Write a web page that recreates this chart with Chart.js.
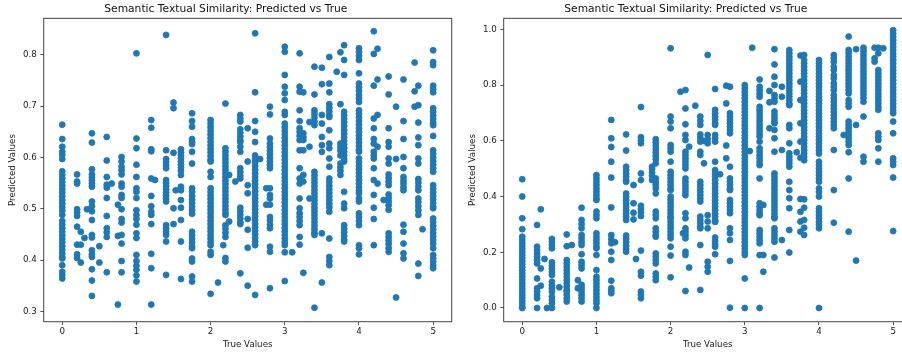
<!DOCTYPE html>
<html>
<head>
<meta charset="utf-8">
<script src="https://cdn.jsdelivr.net/npm/chart.js@4.4.1/dist/chart.umd.min.js"></script>
<style>
  html, body { margin: 0; padding: 0; background: #fff; width: 902px; height: 353px; overflow: hidden; }
  .panel { position: absolute; top: 0; width: 460px; height: 353px; }
</style>
</head>
<body>
<div class="panel" style="left:0"><canvas id="leftChart"></canvas></div>
<div class="panel" style="left:460px"><canvas id="rightChart"></canvas></div>
<script>
// tick labels
const xTicks = [0, 1, 2, 3, 4, 5];
const leftYTicks = [0.3, 0.4, 0.5, 0.6, 0.7, 0.8];
const rightYTicks = [0.0, 0.2, 0.4, 0.6, 0.8, 1.0];

// LEFT PANEL: true score columns and the predictions read at each one
const leftTrue = [0, 0.2, 0.25, 0.3, 0.333, 0.4, 0.5, 0.6, 0.667, 0.75, 0.8, 1.0, 1.2, 1.25, 1.4, 1.5, 1.53, 1.6, 1.75,
  2.0, 2.1, 2.17, 2.2, 2.25, 2.333, 2.4, 2.5, 2.6, 2.667, 2.75, 2.8, 3.0, 3.1, 3.2, 3.25, 3.333, 3.4, 3.5, 3.6, 3.7,
  3.75, 3.8, 4.0, 4.2, 4.25, 4.333, 4.4, 4.5, 4.6, 4.75, 4.8, 4.857, 5.0];
const leftPred = [
  [0.664, 0.636, 0.621, 0.611, 0.605, 0.597, 0.573, 0.566, 0.559, 0.552, 0.545, 0.538, 0.531, 0.524, 0.517, 0.510, 0.503, 0.496, 0.488, 0.476, 0.469, 0.462, 0.455, 0.448, 0.441, 0.434, 0.427, 0.420, 0.413, 0.406, 0.403, 0.390, 0.377, 0.371, 0.364],
  [0.567, 0.553, 0.549, 0.499, 0.493, 0.486, 0.465, 0.430, 0.411, 0.404],
  [0.455, 0.430, 0.395],
  [0.443],
  [0.499],
  [0.647, 0.629, 0.577, 0.567, 0.561, 0.555, 0.549, 0.543, 0.514, 0.505, 0.495, 0.478, 0.449, 0.444, 0.419, 0.411, 0.406, 0.382, 0.360, 0.330],
  [0.427, 0.395],
  [0.640, 0.594, 0.562, 0.547, 0.541, 0.521, 0.486, 0.462, 0.454, 0.445, 0.376],
  [0.549],
  [0.508, 0.447, 0.313],
  [0.601, 0.592, 0.582, 0.575, 0.567, 0.549, 0.543, 0.527, 0.521, 0.499, 0.480, 0.473, 0.449, 0.432, 0.398, 0.376],
  [0.803, 0.637, 0.618, 0.586, 0.562, 0.540, 0.533, 0.521, 0.497, 0.488, 0.480, 0.469, 0.452, 0.443, 0.410, 0.398, 0.389, 0.381, 0.370, 0.358],
  [0.673, 0.658, 0.616, 0.612, 0.559, 0.525, 0.505, 0.494, 0.488, 0.470, 0.412, 0.384, 0.313],
  [0.556],
  [0.839, 0.614, 0.597, 0.591, 0.585, 0.579, 0.556, 0.550, 0.544, 0.538, 0.532, 0.526, 0.520, 0.514, 0.468, 0.462, 0.455, 0.449, 0.436, 0.371],
  [0.707, 0.696, 0.609, 0.501, 0.470],
  [0.536],
  [0.616, 0.610, 0.604, 0.598, 0.592, 0.586, 0.580, 0.574, 0.566, 0.543, 0.536, 0.517, 0.502, 0.478, 0.436, 0.363],
  [0.686, 0.671, 0.660, 0.636, 0.630, 0.626, 0.611, 0.588, 0.540, 0.533, 0.525, 0.518, 0.511, 0.504, 0.497, 0.490, 0.455, 0.448, 0.441, 0.434, 0.427, 0.423, 0.403, 0.397, 0.368, 0.358],
  [0.673, 0.666, 0.659, 0.652, 0.645, 0.638, 0.631, 0.624, 0.617, 0.610, 0.603, 0.596, 0.592, 0.572, 0.562, 0.540, 0.533, 0.526, 0.519, 0.512, 0.505, 0.498, 0.491, 0.484, 0.477, 0.470, 0.463, 0.456, 0.449, 0.442, 0.435, 0.429, 0.416, 0.410, 0.334],
  [0.356],
  [0.429],
  [0.705, 0.618, 0.611, 0.604, 0.597, 0.590, 0.583, 0.576, 0.569, 0.562, 0.555, 0.548, 0.541, 0.534, 0.527, 0.520, 0.513, 0.506, 0.499, 0.492, 0.488, 0.468, 0.461, 0.453, 0.445, 0.404, 0.397],
  [0.566, 0.475],
  [0.553],
  [0.683, 0.676, 0.670, 0.655, 0.648, 0.641, 0.634, 0.630, 0.621, 0.611, 0.579, 0.572, 0.565, 0.559, 0.502, 0.495, 0.488, 0.481, 0.474, 0.470, 0.374],
  [0.657, 0.592, 0.546, 0.530, 0.480, 0.459, 0.424, 0.350],
  [0.842, 0.727, 0.671, 0.650, 0.630, 0.604, 0.597, 0.590, 0.583, 0.576, 0.569, 0.562, 0.555, 0.548, 0.541, 0.534, 0.527, 0.520, 0.513, 0.506, 0.499, 0.492, 0.485, 0.478, 0.471, 0.464, 0.457, 0.450, 0.443, 0.436, 0.429, 0.332],
  [0.597],
  [0.540, 0.508],
  [0.699, 0.684, 0.637, 0.627, 0.620, 0.613, 0.606, 0.599, 0.592, 0.585, 0.579, 0.540, 0.527, 0.520, 0.508, 0.484, 0.477, 0.469, 0.462, 0.426, 0.416, 0.345],
  [0.816, 0.806, 0.761, 0.738, 0.725, 0.712, 0.689, 0.683, 0.666, 0.659, 0.652, 0.645, 0.638, 0.631, 0.624, 0.617, 0.610, 0.603, 0.596, 0.589, 0.582, 0.575, 0.568, 0.561, 0.554, 0.547, 0.540, 0.533, 0.526, 0.519, 0.512, 0.505, 0.498, 0.491, 0.484, 0.477, 0.470, 0.463, 0.456, 0.449, 0.442, 0.435, 0.429, 0.415, 0.359],
  [0.415],
  [0.803, 0.738, 0.728, 0.692, 0.671, 0.657, 0.650, 0.642, 0.634, 0.614, 0.579, 0.559, 0.549, 0.520, 0.501, 0.491, 0.484, 0.476, 0.468, 0.445, 0.430],
  [0.727, 0.647, 0.640, 0.634, 0.614, 0.566, 0.553, 0.375],
  [0.669, 0.621, 0.520],
  [0.777, 0.723, 0.692, 0.685, 0.678, 0.670, 0.663, 0.572, 0.565, 0.558, 0.551, 0.544, 0.537, 0.530, 0.523, 0.516, 0.509, 0.502, 0.495, 0.488, 0.481, 0.474, 0.467, 0.460, 0.453, 0.449, 0.307],
  [0.775, 0.743, 0.683, 0.666, 0.640, 0.624, 0.611, 0.452, 0.356],
  [0.796, 0.744, 0.727, 0.704, 0.697, 0.690, 0.683, 0.679, 0.653, 0.627, 0.618, 0.598, 0.582, 0.559, 0.552, 0.545, 0.538, 0.531, 0.524, 0.517, 0.510, 0.503, 0.494, 0.442, 0.406, 0.398, 0.390],
  [0.767],
  [0.805, 0.704, 0.627, 0.620, 0.613, 0.604, 0.588, 0.581, 0.574, 0.566],
  [0.819, 0.790, 0.761, 0.689, 0.682, 0.675, 0.668, 0.661, 0.653, 0.646, 0.639, 0.632, 0.625, 0.618, 0.611, 0.604, 0.597, 0.592, 0.533, 0.510, 0.501, 0.468, 0.461, 0.454, 0.447, 0.440, 0.436],
  [0.813, 0.806, 0.798, 0.790, 0.764, 0.744, 0.737, 0.730, 0.722, 0.715, 0.708, 0.692, 0.685, 0.678, 0.671, 0.664, 0.657, 0.650, 0.643, 0.636, 0.629, 0.622, 0.615, 0.611, 0.598, 0.591, 0.584, 0.577, 0.570, 0.563, 0.556, 0.549, 0.542, 0.535, 0.530, 0.520, 0.514, 0.491, 0.484, 0.476, 0.468, 0.429, 0.423, 0.411],
  [0.846, 0.802, 0.740, 0.676, 0.657, 0.636, 0.627, 0.611, 0.604, 0.598, 0.579, 0.556, 0.527, 0.502, 0.480, 0.429],
  [0.812, 0.752, 0.683, 0.621, 0.549],
  [0.517],
  [0.758, 0.723, 0.657, 0.630, 0.621, 0.598, 0.588, 0.567, 0.560, 0.553, 0.546, 0.528, 0.521, 0.514, 0.507, 0.498, 0.452, 0.445, 0.438, 0.431, 0.423, 0.416],
  [0.699, 0.597, 0.327],
  [0.752, 0.671, 0.636, 0.601, 0.579, 0.562, 0.555, 0.549, 0.542, 0.536, 0.469, 0.455, 0.432, 0.413, 0.403],
  [0.785, 0.729, 0.699],
  [0.740, 0.702, 0.668, 0.639, 0.624, 0.598, 0.588, 0.558, 0.551, 0.543, 0.536, 0.520, 0.513, 0.505, 0.497, 0.488, 0.393, 0.369],
  [0.460],
  [0.809, 0.786, 0.780, 0.740, 0.733, 0.727, 0.696, 0.689, 0.682, 0.675, 0.668, 0.663, 0.642, 0.614, 0.607, 0.600, 0.593, 0.586, 0.579, 0.572, 0.546, 0.539, 0.532, 0.525, 0.518, 0.511, 0.504, 0.501, 0.481, 0.474, 0.467, 0.460, 0.453, 0.446, 0.439, 0.432, 0.423, 0.410, 0.403, 0.397, 0.390, 0.384]
];

// RIGHT PANEL
const rightTrue = [0, 0.2, 0.25, 0.3, 0.333, 0.4, 0.5, 0.6, 0.667, 0.75, 0.8, 1.0, 1.2, 1.25, 1.4, 1.5, 1.533, 1.6, 1.75, 1.8,
  2.0, 2.133, 2.167, 2.2, 2.25, 2.333, 2.4, 2.45, 2.5, 2.6, 2.667, 2.75, 2.8, 3.0, 3.067, 3.1, 3.2, 3.25, 3.333, 3.4,
  3.5, 3.6, 3.7, 3.75, 3.8, 4.0, 4.2, 4.333, 4.4, 4.5, 4.6, 4.75, 4.8, 4.867, 5.0];
const rightPred = [
  [0.462, 0.400, 0.322, 0.283, 0.256, 0.245, 0.234, 0.223, 0.212, 0.201, 0.190, 0.179, 0.168, 0.157, 0.146, 0.135, 0.124, 0.113, 0.102, 0.091, 0.080, 0.069, 0.058, 0.047, 0.036, 0.025, 0.014, 0.003, 0.0],
  [0.298, 0.220, 0.208, 0.196, 0.184, 0.172, 0.160, 0.106, 0.071, 0.059, 0.047, 0.035, 0.0],
  [0.354, 0.142, 0.080],
  [0.176],
  [0.0],
  [0.248, 0.237, 0.226, 0.214, 0.164, 0.152, 0.141, 0.130, 0.118, 0.094, 0.082, 0.071, 0.059, 0.041, 0.029, 0.017, 0.0],
  [0.074],
  [0.264, 0.222, 0.172, 0.160, 0.148, 0.136, 0.124, 0.112, 0.100, 0.088, 0.076, 0.064, 0.059, 0.047, 0.035, 0.023],
  [0.226],
  [0.100, 0.071],
  [0.360, 0.316, 0.301, 0.286, 0.262, 0.250, 0.238, 0.226, 0.193, 0.166, 0.154, 0.142, 0.083, 0.071, 0.059, 0.047, 0.035, 0.023],
  [0.477, 0.465, 0.453, 0.441, 0.429, 0.417, 0.405, 0.393, 0.388, 0.346, 0.334, 0.322, 0.268, 0.256, 0.244, 0.232, 0.220, 0.214, 0.190, 0.136, 0.112, 0.100, 0.088, 0.076, 0.064, 0.052, 0.040, 0.028, 0.017, 0.0],
  [0.675, 0.609, 0.578, 0.525, 0.468, 0.361, 0.262, 0.247, 0.232, 0.202, 0.172, 0.098, 0.071, 0.062, 0.053],
  [0.236],
  [0.623, 0.565, 0.507, 0.495, 0.483, 0.471, 0.459, 0.453, 0.411, 0.399, 0.387, 0.375, 0.363, 0.351, 0.339, 0.327, 0.316, 0.260, 0.248, 0.236, 0.224, 0.212, 0.202],
  [0.441, 0.376, 0.342, 0.318],
  [0.176],
  [0.721, 0.613, 0.602, 0.591, 0.483, 0.459, 0.367, 0.355, 0.343, 0.330, 0.206, 0.130, 0.116, 0.059, 0.047, 0.035],
  [0.507, 0.499, 0.487, 0.475, 0.459],
  [0.606, 0.594, 0.582, 0.570, 0.558, 0.546, 0.534, 0.519, 0.465, 0.453, 0.441, 0.429, 0.411, 0.346, 0.334, 0.322, 0.286, 0.274, 0.262, 0.256, 0.196, 0.184, 0.172, 0.160, 0.124, 0.112, 0.100],
  [0.932, 0.687, 0.669, 0.645, 0.585, 0.573, 0.561, 0.525, 0.489, 0.477, 0.465, 0.453, 0.441, 0.429, 0.423, 0.400, 0.388, 0.376, 0.364, 0.352, 0.340, 0.328, 0.322, 0.310, 0.298, 0.286, 0.274, 0.262, 0.250, 0.220, 0.188, 0.110],
  [0.776],
  [0.268],
  [0.782, 0.716, 0.659, 0.621, 0.603, 0.561, 0.549, 0.537, 0.525, 0.513, 0.501, 0.465, 0.453, 0.441, 0.429, 0.417, 0.405, 0.340, 0.322, 0.286, 0.274, 0.262, 0.250, 0.202, 0.190, 0.061],
  [0.579, 0.145],
  [0.726],
  [0.687, 0.672, 0.657, 0.623, 0.611, 0.597, 0.561, 0.549, 0.453, 0.441, 0.429, 0.417, 0.405, 0.393, 0.382, 0.328, 0.316, 0.304, 0.292, 0.286, 0.226, 0.065],
  [0.599, 0.519],
  [0.908, 0.621, 0.606, 0.591, 0.333, 0.310, 0.286, 0.166, 0.148, 0.130],
  [0.786, 0.711, 0.699, 0.687, 0.675, 0.663, 0.657, 0.621, 0.609, 0.597, 0.525, 0.495, 0.483, 0.471, 0.459, 0.447, 0.435, 0.423, 0.411, 0.399, 0.387, 0.375, 0.363, 0.351, 0.339, 0.327, 0.315, 0.309, 0.253, 0.241, 0.229, 0.220, 0.193],
  [0.480],
  [0.798, 0.734, 0.583, 0.537],
  [0.794, 0.699, 0.687, 0.675, 0.663, 0.651, 0.639, 0.627, 0.507, 0.465, 0.453, 0.441, 0.429, 0.423, 0.388, 0.376, 0.364, 0.352, 0.340, 0.286, 0.268, 0.244, 0.169, 0.001],
  [0.800, 0.788, 0.776, 0.764, 0.752, 0.740, 0.728, 0.716, 0.704, 0.692, 0.680, 0.668, 0.656, 0.644, 0.632, 0.620, 0.608, 0.596, 0.584, 0.572, 0.560, 0.548, 0.536, 0.524, 0.512, 0.500, 0.488, 0.476, 0.464, 0.452, 0.440, 0.428, 0.416, 0.404, 0.392, 0.380, 0.368, 0.356, 0.344, 0.332, 0.320, 0.308, 0.296, 0.284, 0.272, 0.260, 0.248, 0.236, 0.224, 0.212, 0.200, 0.190, 0.106, 0.0],
  [0.563],
  [0.934],
  [0.820, 0.794, 0.782, 0.770, 0.758, 0.722, 0.710, 0.698, 0.686, 0.674, 0.662, 0.650, 0.638, 0.626, 0.615, 0.597, 0.573, 0.561, 0.549, 0.537, 0.525, 0.513, 0.465, 0.376, 0.364, 0.352, 0.340, 0.333, 0.280, 0.268, 0.256, 0.244, 0.232, 0.190, 0.0],
  [0.370, 0.190, 0.130],
  [0.779, 0.738, 0.645],
  [0.929, 0.874, 0.830, 0.800, 0.764, 0.752, 0.740, 0.705, 0.693, 0.681, 0.669, 0.663, 0.639, 0.609, 0.561, 0.483, 0.471, 0.459, 0.447, 0.435, 0.423, 0.411, 0.399, 0.387, 0.375, 0.363, 0.351, 0.339, 0.327, 0.322, 0.286, 0.274, 0.262, 0.250, 0.238, 0.181],
  [0.794, 0.758, 0.567, 0.244],
  [0.926, 0.914, 0.902, 0.890, 0.878, 0.866, 0.854, 0.842, 0.830, 0.818, 0.806, 0.794, 0.782, 0.770, 0.758, 0.746, 0.734, 0.728, 0.657, 0.645, 0.591, 0.555, 0.543, 0.531, 0.519, 0.507, 0.453, 0.423, 0.394, 0.358, 0.280, 0.199],
  [0.559],
  [0.906, 0.812, 0.746, 0.663, 0.597, 0.539, 0.391, 0.345, 0.310, 0.274],
  [0.908, 0.890, 0.878, 0.866, 0.854, 0.842, 0.830, 0.818, 0.806, 0.794, 0.782, 0.770, 0.758, 0.746, 0.734, 0.722, 0.710, 0.698, 0.686, 0.674, 0.662, 0.650, 0.638, 0.626, 0.614, 0.602, 0.590, 0.578, 0.566, 0.554, 0.542, 0.530, 0.390, 0.360, 0.316, 0.288, 0.262],
  [0.890, 0.878, 0.866, 0.854, 0.842, 0.830, 0.818, 0.806, 0.794, 0.782, 0.770, 0.758, 0.746, 0.734, 0.722, 0.710, 0.698, 0.686, 0.674, 0.662, 0.650, 0.638, 0.626, 0.614, 0.602, 0.590, 0.578, 0.566, 0.554, 0.525, 0.513, 0.501, 0.489, 0.477, 0.465, 0.453, 0.429, 0.417, 0.400, 0.358, 0.346, 0.334, 0.322, 0.310, 0.298, 0.286, 0.0],
  [0.908, 0.896, 0.884, 0.866, 0.854, 0.836, 0.824, 0.806, 0.794, 0.782, 0.764, 0.752, 0.740, 0.728, 0.716, 0.704, 0.692, 0.680, 0.668, 0.656, 0.645, 0.567, 0.423, 0.306],
  [0.621],
  [0.974, 0.926, 0.914, 0.902, 0.890, 0.878, 0.866, 0.854, 0.842, 0.830, 0.818, 0.806, 0.794, 0.782, 0.770, 0.746, 0.734, 0.722, 0.669, 0.657, 0.645, 0.633, 0.621, 0.609, 0.597, 0.585, 0.559, 0.465, 0.274],
  [0.929, 0.657, 0.170],
  [0.934, 0.922, 0.910, 0.898, 0.886, 0.874, 0.862, 0.850, 0.838, 0.826, 0.814, 0.802, 0.790, 0.778, 0.766, 0.754, 0.740, 0.687, 0.543, 0.525],
  [0.934, 0.896, 0.884],
  [0.934, 0.914, 0.854, 0.842, 0.830, 0.818, 0.806, 0.794, 0.782, 0.770, 0.758, 0.746, 0.734, 0.722, 0.711, 0.627, 0.615, 0.603, 0.573, 0.525],
  [0.932],
  [0.997, 0.985, 0.973, 0.961, 0.949, 0.937, 0.925, 0.913, 0.901, 0.889, 0.877, 0.865, 0.853, 0.841, 0.829, 0.817, 0.805, 0.793, 0.781, 0.769, 0.757, 0.745, 0.733, 0.721, 0.709, 0.699, 0.669, 0.627, 0.537, 0.525, 0.513, 0.468, 0.276]
];

const TITLE = 'Semantic Textual Similarity: Predicted vs True';
const BLUE = '#1f77b4';
const FONT = "'DejaVu Sans', sans-serif";

// turn column lists into {x, y} points
function toPoints(trueVals, predCols) {
    const pts = [];
    trueVals.forEach((t, i) => predCols[i].forEach(p => pts.push({ x: t, y: p })));
    return pts;
}

// matplotlib-style box around the plot area
const frame = {
    id: 'frame',
    afterDraw(chart) {
        const { ctx, chartArea: a } = chart;
        ctx.save();
        ctx.strokeStyle = '#444';
        ctx.lineWidth = 1;
        ctx.strokeRect(a.left, a.top, a.right - a.left, a.bottom - a.top);
        ctx.restore();
    }
};

function makeChart(id, points, yMin, yMax, yTicks) {
    return new Chart(document.getElementById(id), {
        type: 'scatter',
        data: {
            datasets: [{
                data: points,
                backgroundColor: BLUE,
                borderColor: BLUE,
                borderWidth: 0.8,
                pointRadius: 3,
                pointHoverRadius: 3
            }]
        },
        options: {
            responsive: true,
            maintainAspectRatio: false,
            animation: false,
            devicePixelRatio: 1,
            layout: { padding: { left: 0, right: 8.3, top: 0, bottom: 0 } },
            plugins: {
                legend: { display: false },
                tooltip: { enabled: false },
                title: {
                    display: true,
                    text: TITLE,
                    color: '#111',
                    font: { family: FONT, size: 10.7, weight: 'normal' },
                    padding: { top: 2.8, bottom: 2.7 }
                }
            },
            scales: {
                x: {
                    type: 'linear',
                    min: -0.25,
                    max: 5.25,
                    afterBuildTicks: s => { s.ticks = xTicks.map(v => ({ value: v })); },
                    afterFit: s => { s.height = 31.3; },
                    grid: { drawOnChartArea: false, drawTicks: true, tickLength: 3.5, color: '#333', lineWidth: 0.8 },
                    border: { display: false },
                    ticks: {
                        color: '#222',
                        padding: 1.5,
                        maxRotation: 0,
                        font: { family: FONT, size: 8.7 },
                        callback: v => v.toFixed(0)
                    },
                    title: {
                        display: true,
                        text: 'True Values',
                        color: '#222',
                        font: { family: FONT, size: 8.7 },
                        padding: { top: 0, bottom: 3.5 }
                    }
                },
                y: {
                    type: 'linear',
                    min: yMin,
                    max: yMax,
                    afterBuildTicks: s => { s.ticks = yTicks.map(v => ({ value: v })); },
                    afterFit: s => { s.width = 43.7; },
                    grid: { drawOnChartArea: false, drawTicks: true, tickLength: 3.5, color: '#333', lineWidth: 0.8 },
                    border: { display: false },
                    ticks: {
                        color: '#222',
                        padding: 3.5,
                        font: { family: FONT, size: 8.7 },
                        callback: v => v.toFixed(1)
                    },
                    title: {
                        display: true,
                        text: 'Predicted Values',
                        color: '#222',
                        font: { family: FONT, size: 8.7 },
                        padding: { top: 8, bottom: 0 }
                    }
                }
            }
        },
        plugins: [frame]
    });
}

makeChart('leftChart', toPoints(leftTrue, leftPred), 0.2797, 0.8713, leftYTicks);
makeChart('rightChart', toPoints(rightTrue, rightPred), -0.0492, 1.0395, rightYTicks);
</script>
</body>
</html>
